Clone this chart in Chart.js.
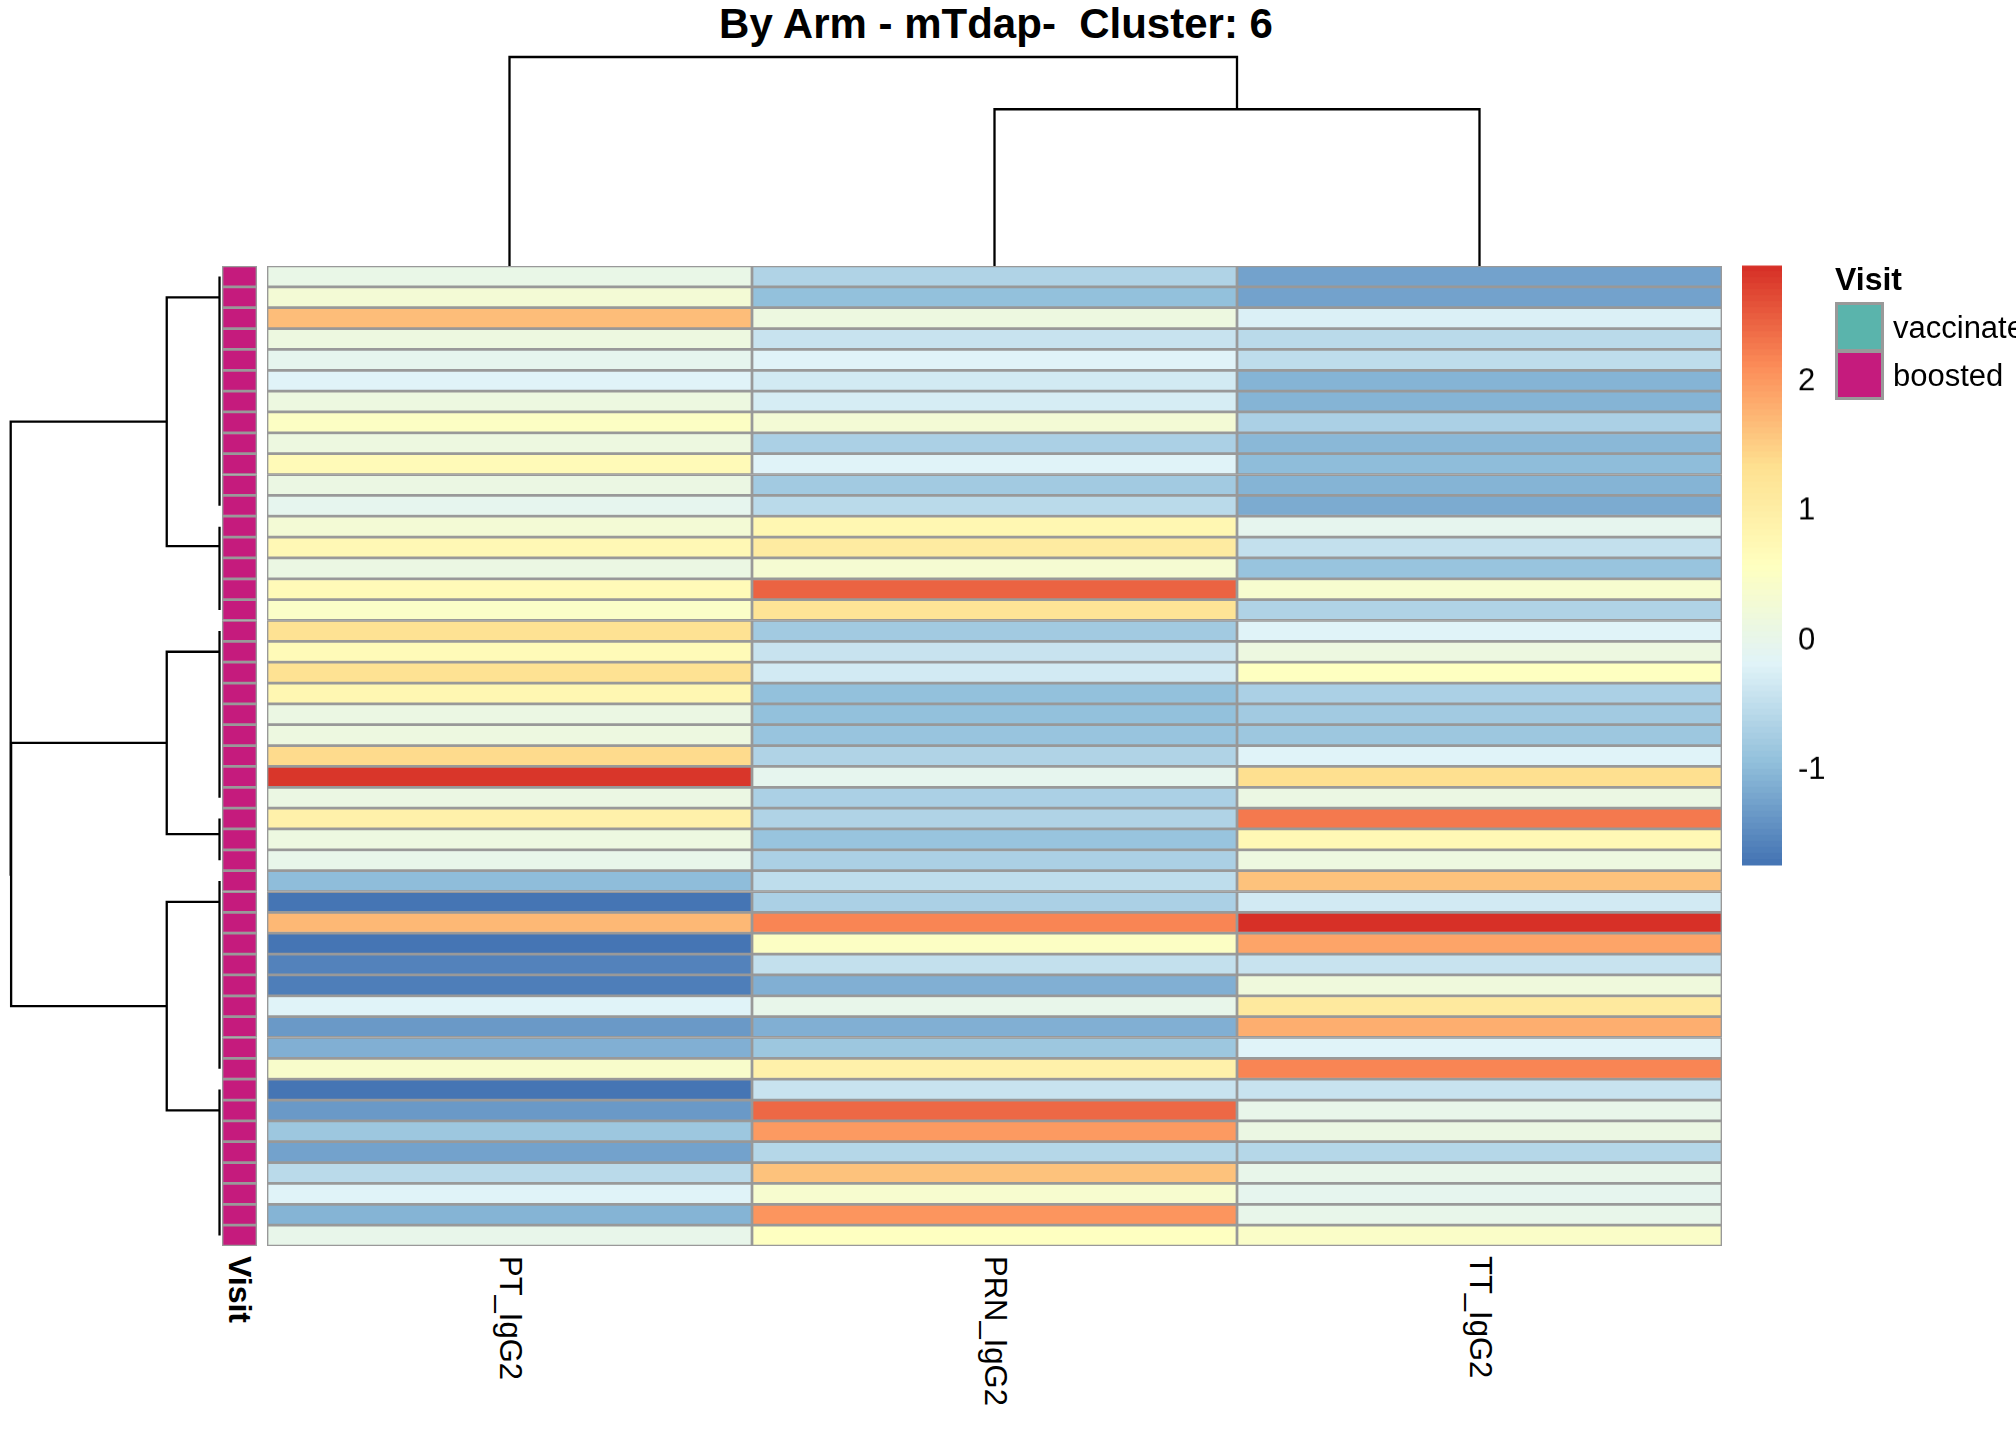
<!DOCTYPE html>
<html>
<head>
<meta charset="utf-8">
<title>By Arm - mTdap-  Cluster: 6</title>
<script src="https://cdn.jsdelivr.net/npm/chart.js@4.4.1/dist/chart.umd.min.js"></script>
<style>
  html, body { margin: 0; padding: 0; background: #fff; }
  body {
    width: 2016px; height: 1440px; position: relative; overflow: hidden;
    font-family: 'Liberation Sans', Arial, Helvetica, sans-serif; color: #000;
  }
  .box { position: absolute; }
  .box canvas { display: block; }
  #title {
    position: absolute; left: 0; width: 1992px; top: -1px; text-align: center;
    font-size: 42px; font-weight: bold; line-height: 50px; white-space: pre;
  }
  .vlabel {
    position: absolute; writing-mode: vertical-rl; white-space: nowrap;
    font-size: 31px; line-height: 36px; width: 36px;
  }
  .vlabel.bold { font-weight: bold; font-size: 32px; }
  .legend-title { position: absolute; font-weight: bold; font-size: 32px; line-height: 36px; }
  .legend-key { position: absolute; box-sizing: border-box; border: 3px solid #999999; }
  .legend-text { position: absolute; font-size: 31px; line-height: 36px; white-space: nowrap; }
</style>
</head>
<body>
<div id="title">By Arm - mTdap-  Cluster: 6</div>

<div class="box" id="rowTreeBox" style="left:0px; top:266px; width:232px; height:980px;"><canvas id="rowTree"></canvas></div>
<div class="box" id="colTreeBox" style="left:267px; top:45px; width:1455px; height:221px;"><canvas id="colTree"></canvas></div>
<div class="box" id="annoBox" style="left:222px; top:266px; width:35px; height:980px;"><canvas id="anno"></canvas></div>
<div class="box" id="heatBox" style="left:267px; top:266px; width:1455px; height:980px;"><canvas id="heat"></canvas></div>
<div class="box" id="scaleBox" style="left:1742px; top:266px; width:110px; height:599px;"><canvas id="scale"></canvas></div>

<script>
// ---------------- data ----------------
const colLabels = ['PT_IgG2', 'PRN_IgG2', 'TT_IgG2'];

// row order as displayed (top to bottom)
const ptIgG2 = [
  0.05, 0.30, 1.67, 0.13, -0.03, -0.20, 0.16, 0.51, 0.16, 0.70,
  0.08, -0.03, 0.30, 0.73, 0.08, 0.68, 0.46, 1.28, 0.68, 1.28,
  0.80, 0.08, 0.16, 1.41, 2.85, 0.11, 0.95, 0.16, 0.00, -0.97,
  -1.70, 1.70, -1.70, -1.56, -1.62, -0.19, -1.34, -1.13, 0.44, -1.74,
  -1.33, -0.84, -1.23, -0.57, -0.19, -1.09, 0.02
];
const prnIgG2 = [
  -0.64, -0.95, 0.13, -0.40, -0.20, -0.31, -0.30, 0.30, -0.71, -0.18,
  -0.80, -0.57, 0.80, 1.05, 0.32, 2.48, 1.23, -0.80, -0.42, -0.31,
  -0.91, -0.93, -0.87, -0.66, -0.03, -0.71, -0.66, -0.86, -0.71, -0.53,
  -0.71, 2.19, 0.51, -0.47, -1.10, 0.00, -1.10, -0.84, 0.95, -0.40,
  2.39, 2.01, -0.60, 1.64, 0.35, 2.04, 0.54
];
const ttIgG2 = [
  -1.26, -1.24, -0.22, -0.58, -0.52, -1.05, -1.05, -0.71, -1.00, -0.98,
  -1.05, -1.14, -0.03, -0.47, -0.86, 0.35, -0.66, -0.18, 0.16, 0.57,
  -0.71, -0.78, -0.84, -0.18, 1.35, 0.08, 2.28, 0.75, 0.16, 1.61,
  -0.31, 2.90, 1.88, -0.40, 0.19, 1.10, 1.80, -0.19, 2.19, -0.42,
  0.00, 0.08, -0.62, 0.02, -0.03, 0.02, 0.46
];

const visitLevels = ['vaccinated', 'boosted'];
const rowVisit = [
  'boosted', 'boosted', 'boosted', 'boosted', 'boosted', 'boosted', 'boosted', 'boosted', 'boosted', 'boosted',
  'boosted', 'boosted', 'boosted', 'boosted', 'boosted', 'boosted', 'boosted', 'boosted', 'boosted', 'boosted',
  'boosted', 'boosted', 'boosted', 'boosted', 'boosted', 'boosted', 'boosted', 'boosted', 'boosted', 'boosted',
  'boosted', 'boosted', 'boosted', 'boosted', 'boosted', 'boosted', 'boosted', 'boosted', 'boosted', 'boosted',
  'boosted', 'boosted', 'boosted', 'boosted', 'boosted', 'boosted', 'boosted'
];

const legendTicks = [-1, 0, 1, 2];

// column dendrogram (hclust style merge: negative = leaf, positive = earlier merge)
const colMerge = [[-2, -3], [-1, 1]];
const colMergeHeight = [0.75, 1.0];

// row dendrogram: leaf groups that join at ~zero height, then merged
const rowGroupFirst = [1, 13, 18, 27, 30, 40];
const rowGroupLast = [12, 17, 26, 29, 39, 47];
const rowGroupAnchor = [2, 13.93, 19, 27.75, 31, 41];
const rowGroupHeight = [0.007, 0.007, 0.007, 0.007, 0.007, 0.007];
const rowMerge = [[-1, -2], [-3, -4], [-5, -6], [2, 3], [1, 4]];
const rowMergeHeight = [0.258, 0.258, 0.258, 0.998, 1.0];

// ---------------- styles ----------------
const paletteStops = ['#4575B4', '#91BFDB', '#E0F3F8', '#FFFFBF', '#FEE090', '#FC8D59', '#D73027'];
const visitColors = { vaccinated: '#5AB4AC', boosted: '#C51B7D' };
const CELL_BORDER = '#999999';
const TREE_COLOR = '#000000';
const TREE_WIDTH = 2.3;
const N_COLORS = 100;

Chart.defaults.font.family = "'Liberation Sans', Arial, Helvetica, sans-serif";
Chart.defaults.color = '#000';

// colorRampPalette-like interpolation
function hexToRgb(h) {
  const n = parseInt(h.slice(1), 16);
  return [(n >> 16) & 255, (n >> 8) & 255, n & 255];
}
function rampColors(stops, n) {
  const rgb = stops.map(hexToRgb);
  const out = [];
  for (let i = 0; i < n; i++) {
    const t = (i / (n - 1)) * (rgb.length - 1);
    const k = Math.min(Math.floor(t), rgb.length - 2);
    const f = t - k;
    const c = [0, 1, 2].map(j => Math.round(rgb[k][j] + (rgb[k + 1][j] - rgb[k][j]) * f));
    out.push(`rgb(${c[0]},${c[1]},${c[2]})`);
  }
  return out;
}

const columns = [ptIgG2, prnIgG2, ttIgG2];
const allValues = columns.flat();
const vMin = Math.min(...allValues);
const vMax = Math.max(...allValues);
const colors = rampColors(paletteStops, N_COLORS);
const breaks = colors.map((_, i) => vMin + (vMax - vMin) * i / N_COLORS).concat([vMax]);

function valueColor(v) {
  let k = Math.floor((v - vMin) / (vMax - vMin) * N_COLORS);
  k = Math.max(0, Math.min(N_COLORS - 1, k));
  return colors[k];
}

const rowIds = ptIgG2.map((_, i) => 'row' + (i + 1));

const baseOptions = {
  responsive: true,
  maintainAspectRatio: false,
  animation: false,
  events: [],
  plugins: { legend: { display: false }, tooltip: { enabled: false }, title: { display: false } }
};

// ---------------- heatmap ----------------
const heatChart = new Chart(document.getElementById('heat'), {
  type: 'bar',
  data: {
    labels: rowIds,
    datasets: columns.map((vals, c) => ({
      label: colLabels[c],
      data: vals.map(() => [c, c + 1]),
      backgroundColor: vals.map(valueColor),
      borderColor: CELL_BORDER,
      borderWidth: 1.7,
      borderSkipped: false,
      barPercentage: 1,
      categoryPercentage: 1,
      grouped: false
    }))
  },
  options: {
    ...baseOptions,
    indexAxis: 'y',
    layout: { padding: 0 },
    scales: {
      x: { type: 'linear', min: 0, max: colLabels.length, display: false },
      y: { type: 'category', display: false, offset: true }
    }
  }
});

// ---------------- annotation column ----------------
new Chart(document.getElementById('anno'), {
  type: 'bar',
  data: {
    labels: rowIds,
    datasets: [{
      label: 'Visit',
      data: rowVisit.map(() => [0, 1]),
      backgroundColor: rowVisit.map(v => visitColors[v]),
      borderColor: CELL_BORDER,
      borderWidth: 1.7,
      borderSkipped: false,
      barPercentage: 1,
      categoryPercentage: 1
    }]
  },
  options: {
    ...baseOptions,
    indexAxis: 'y',
    layout: { padding: 0 },
    scales: {
      x: { type: 'linear', min: 0, max: 1, display: false },
      y: { type: 'category', display: false, offset: true }
    }
  }
});

// ---------------- dendrograms ----------------
function buildLinks(merge, heights, leafPos, leafHeight) {
  const nodePos = [];
  const links = [];
  merge.forEach(([a, b], k) => {
    const pa = a < 0 ? leafPos[-a - 1] : nodePos[a - 1];
    const ha = a < 0 ? leafHeight[-a - 1] : heights[a - 1];
    const pb = b < 0 ? leafPos[-b - 1] : nodePos[b - 1];
    const hb = b < 0 ? leafHeight[-b - 1] : heights[b - 1];
    const h = heights[k];
    links.push([[pa, ha], [pa, h], [pb, h], [pb, hb]]);
    nodePos.push((pa + pb) / 2);
  });
  return links;
}

function treeDataset(points) {
  return {
    data: points,
    showLine: true,
    pointRadius: 0,
    borderColor: TREE_COLOR,
    borderWidth: TREE_WIDTH,
    fill: false,
    tension: 0,
    clip: false
  };
}

// column tree: x = column position, y = height
const colLinks = buildLinks(colMerge, colMergeHeight, colLabels.map((_, i) => i + 0.5), colLabels.map(() => 0));
new Chart(document.getElementById('colTree'), {
  type: 'scatter',
  data: { datasets: colLinks.map(l => treeDataset(l.map(([p, h]) => ({ x: p, y: h })))) },
  options: {
    ...baseOptions,
    layout: { padding: { top: 12, left: 0, right: 0, bottom: 0 } },
    scales: {
      x: { type: 'linear', min: 0, max: colLabels.length, display: false },
      y: { type: 'linear', min: 0, max: 1, display: false }
    }
  }
});

// row tree: x = height (reversed), y = row position
const rowLinks = buildLinks(rowMerge, rowMergeHeight, rowGroupAnchor, rowGroupHeight);
const groupSpans = rowGroupFirst.map((f, g) => [[f, rowGroupHeight[g]], [rowGroupLast[g], rowGroupHeight[g]]]);
new Chart(document.getElementById('rowTree'), {
  type: 'scatter',
  data: {
    datasets: groupSpans.concat(rowLinks).map(l => treeDataset(l.map(([p, h]) => ({ x: h, y: p }))))
  },
  options: {
    ...baseOptions,
    layout: { padding: { top: 0, bottom: 0, left: 10.7, right: 11 } },
    scales: {
      x: { type: 'linear', min: 0, max: 1, reverse: true, display: false },
      y: { type: 'linear', min: 0.5, max: rowIds.length + 0.5, reverse: true, display: false }
    }
  }
});

// ---------------- colour key ----------------
const KEY_TOP = 266, KEY_BOTTOM = 865;
const scaleBox = document.getElementById('scaleBox');
const keyChart = new Chart(document.getElementById('scale'), {
  type: 'bar',
  data: {
    labels: ['key'],
    datasets: colors.map((col, i) => ({
      data: [[breaks[i], breaks[i + 1]]],
      backgroundColor: col,
      borderWidth: 0,
      barPercentage: 1,
      categoryPercentage: 1,
      grouped: false,
      inflateAmount: 0.5
    }))
  },
  options: {
    ...baseOptions,
    layout: { padding: 0 },
    scales: {
      x: { display: false, offset: true },
      y: {
        type: 'linear',
        position: 'right',
        min: vMin,
        max: vMax,
        grid: { display: false, drawTicks: false },
        border: { display: false },
        afterBuildTicks: (scale) => { scale.ticks = legendTicks.map(v => ({ value: v })); },
        afterFit: (scale) => { scale.width = 70; },
        ticks: {
          padding: 16,
          color: '#000',
          font: { size: 31 },
          callback: (v) => String(v)
        }
      }
    }
  }
});
// the axis reserves room for half a tick label at both ends; grow the box so the bar itself spans KEY_TOP..KEY_BOTTOM
{
  const boxH = scaleBox.clientHeight;
  const padTop = keyChart.chartArea.top;
  const padBottom = boxH - keyChart.chartArea.bottom;
  scaleBox.style.top = (KEY_TOP - padTop) + 'px';
  scaleBox.style.height = (KEY_BOTTOM - KEY_TOP + padTop + padBottom) + 'px';
  keyChart.resize();
}

// ---------------- text: column labels, annotation label, visit legend ----------------
const heatLeft = 267;
colLabels.forEach((name, c) => {
  const el = document.createElement('div');
  el.className = 'vlabel';
  el.textContent = name;
  el.style.left = (heatLeft + heatChart.scales.x.getPixelForValue(c + 0.5) - 18) + 'px';
  el.style.top = '1256px';
  document.body.appendChild(el);
});

const visitLabel = document.createElement('div');
visitLabel.className = 'vlabel bold';
visitLabel.textContent = 'Visit';
visitLabel.style.left = (239.5 - 18) + 'px';
visitLabel.style.top = '1256px';
document.body.appendChild(visitLabel);

const legendTitle = document.createElement('div');
legendTitle.className = 'legend-title';
legendTitle.textContent = 'Visit';
legendTitle.style.left = '1835px';
legendTitle.style.top = '261px';
document.body.appendChild(legendTitle);

visitLevels.forEach((lvl, i) => {
  const key = document.createElement('div');
  key.className = 'legend-key';
  key.style.left = '1835px';
  key.style.top = (302 + i * 48) + 'px';
  key.style.width = '49px';
  key.style.height = '50px';
  key.style.background = visitColors[lvl];
  document.body.appendChild(key);

  const txt = document.createElement('div');
  txt.className = 'legend-text';
  txt.textContent = lvl;
  txt.style.left = '1893px';
  txt.style.top = (310 + i * 48) + 'px';
  document.body.appendChild(txt);
});
</script>
</body>
</html>
